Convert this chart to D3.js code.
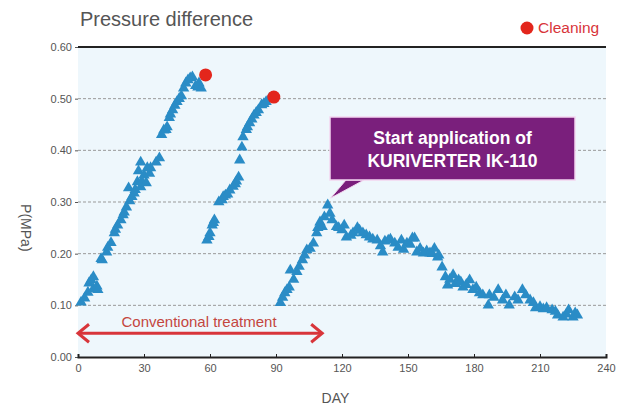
<!DOCTYPE html>
<meta charset="utf-8">
<script src="https://cdn.jsdelivr.net/npm/d3@7"></script>
<style type="text/css">
    body { margin: 0; background: #fff; }
    .title { font-family: "Liberation Sans", Arial, sans-serif; font-size: 20px; fill: #555; }
    .tick text { font-family: "Liberation Sans", Arial, sans-serif; font-size: 11px; fill: #555; }
    .label { font-family: "Liberation Sans", Arial, sans-serif; font-size: 14px; fill: #555; }
</style>
<body>
<script type="text/javascript">
    // [day, P(MPa)]
    var run1 = [[1.4,0.106],[3,0.114],[4.5,0.125],[5,0.143],[6,0.149],[7,0.155],[7,0.132],[8.6,0.137],[9,0.13],
        [10.5,0.19],[11,0.188],[13,0.203],[13.5,0.212],[15,0.221],[16.5,0.24],[17,0.247],[18,0.255],
        [19.5,0.265],[20.5,0.275],[21,0.28],[22,0.29],[23,0.327],[23.5,0.302],[24.5,0.31],[25.5,0.317],
        [26,0.324],[27,0.339],[27.5,0.36],[28.5,0.329],[28.5,0.377],[29,0.34],[30,0.352],[31,0.337],
        [31.5,0.366],[32.5,0.355],[33,0.366],[35.5,0.377],[37,0.385],[38,0.43],[39,0.439],[40,0.44],
        [40.5,0.445],[41.5,0.463],[42,0.47],[43,0.478],[44,0.487],[45,0.494],[46,0.5],[47,0.505],
        [48,0.52],[49,0.53],[50,0.536],[51,0.54],[52,0.542],[53.5,0.525],[54.5,0.522],[55,0.53],[56,0.52]];
    var run2 = [[58.6,0.226],[59.5,0.233],[60,0.24],[61,0.255],[61.5,0.26],[62,0.265],[64,0.3],
        [65.5,0.304],[66,0.31],[67,0.313],[68,0.315],[69,0.323],[70.5,0.33],[71.5,0.335],[72,0.34],
        [73,0.348],[73.5,0.381],[74.5,0.406],[75,0.426],[76.5,0.44],[77,0.445],[78,0.453],[79,0.46],
        [80,0.468],[81,0.473],[82,0.478],[83.5,0.488],[84.5,0.49],[85.5,0.494],[87,0.5]];
    var run3 = [[92,0.105],[93,0.115],[94,0.124],[95,0.13],[96,0.135],[96.5,0.168],[98,0.15],
        [99.5,0.165],[100.5,0.175],[102,0.188],[103,0.197],[104,0.207],[105.5,0.21],[107,0.22],
        [108.5,0.24],[109,0.25],[110,0.261],[111,0.252],[112,0.271],[113.5,0.294],[114.5,0.278],
        [115.5,0.265],[117.5,0.252],[118.5,0.25],[120,0.246],[121,0.255],[122,0.232],[124,0.235],
        [125,0.24],[127,0.25],[128,0.245],[129.5,0.24],[131,0.236],[132.5,0.232],[134,0.228],
        [136,0.226],[137.5,0.215],[138.5,0.203],[139.5,0.224],[141,0.226],[142,0.228],[144,0.22],
        [145.5,0.212],[147,0.226],[148,0.208],[149.5,0.22],[151,0.218],[152,0.23],[153,0.23],
        [154,0.203],[155.5,0.21],[157,0.201],[158.5,0.205],[160,0.201],[161,0.2],[162,0.21],
        [163.5,0.193],[164,0.197],[165.5,0.174],[167,0.155],[168,0.139],[169,0.15],[170.5,0.159],
        [171.5,0.142],[173,0.149],[174,0.145],[175,0.135],[176.5,0.14],[178,0.149],[179.5,0.13],
        [181,0.135],[182.5,0.124],[184,0.12],[186.5,0.10],[187,0.12],[189,0.115],[191,0.13],
        [193,0.11],[194.5,0.12],[196,0.10],[198.5,0.116],[200,0.11],[202,0.13],[203.5,0.12],
        [205.5,0.11],[207,0.105],[208,0.095],[210,0.097],[211.5,0.093],[213,0.095],[215.5,0.091],
        [217,0.088],[218,0.081],[220.5,0.077],[222,0.083],[223,0.091],[225,0.077],[226,0.085],[227,0.081]];
    var cleanings = [[58,0.546],[89,0.503]];
    var xTicks = [0, 30, 60, 90, 120, 150, 180, 210, 240];
    var yTicks = [0, 0.1, 0.2, 0.3, 0.4, 0.5, 0.6];
    var startDay = 113.5, startP = 0.294;

    var margin = { top: 47, right: 14, bottom: 53, left: 78 }
        , width = 619 - margin.left - margin.right
        , height = 410 - margin.top - margin.bottom;

    var svg = d3.select("body").append("svg")
        .attr("width", 619)
        .attr("height", 410)
        .append("g")
        .attr("transform", "translate(" + margin.left + "," + margin.top + ")");

    var xScale = d3.scaleLinear().domain([0, 240]).range([0, 528]);
    var yScale = d3.scaleLinear().domain([0, 0.6]).range([height, 0]);

    svg.append("rect")
        .attr("width", 528).attr("height", height)
        .style("fill", "#eef7fc");

    // grid
    svg.selectAll(".grid")
        .data(yTicks.slice(1, 6))
        .enter().append("line")
        .attr("x1", 0).attr("x2", 528)
        .attr("y1", yScale).attr("y2", yScale)
        .style("stroke", "#999")
        .style("stroke-width", 1)
        .style("stroke-dasharray", "3,2");

    svg.append("line")
        .attr("x1", 0).attr("x2", 528)
        .attr("y1", yScale(0.6)).attr("y2", yScale(0.6))
        .style("stroke", "#222").style("stroke-width", 2);

    var yAxis = svg.append("g")
        .call(d3.axisLeft(yScale).tickValues(yTicks).tickFormat(d3.format(".2f")).tickSize(3));
    yAxis.select(".domain").remove();
    yAxis.selectAll(".tick line").style("stroke", "#555");

    var xAxis = svg.append("g")
        .attr("transform", "translate(0," + height + ")")
        .call(d3.axisBottom(xScale).tickValues(xTicks).tickSize(-3).tickPadding(7));
    xAxis.select(".domain").style("stroke", "#222").style("stroke-width", 2);
    xAxis.selectAll(".tick line").style("stroke", "#222");

    // points
    var tri = d3.symbol().type(d3.symbolTriangle).size(56);
    svg.selectAll(".pt")
        .data(run1.concat(run2, run3))
        .enter().append("path")
        .attr("d", tri)
        .attr("transform", function (d) { return "translate(" + xScale(d[0]) + "," + yScale(d[1]) + ")"; })
        .style("fill", "#2a8cc6");

    svg.selectAll(".clean")
        .data(cleanings)
        .enter().append("circle")
        .attr("cx", function (d) { return xScale(d[0]); })
        .attr("cy", function (d) { return yScale(d[1]); })
        .attr("r", 6.5)
        .style("fill", "#e3261c");

    // conventional treatment arrow
    var ay = yScale(0.046);
    svg.append("line")
        .attr("x1", xScale(0) + 2).attr("x2", xScale(111) - 2)
        .attr("y1", ay).attr("y2", ay)
        .style("stroke", "#d8353a").style("stroke-width", 3);
    [[xScale(0), 1], [xScale(111), -1]].forEach(function (a) {
        svg.append("path")
            .attr("d", "M" + (a[0] + a[1] * 11) + "," + (ay - 9) + "L" + a[0] + "," + ay + "L" + (a[0] + a[1] * 11) + "," + (ay + 9))
            .style("fill", "none").style("stroke", "#d8353a").style("stroke-width", 3);
    });
    svg.append("text")
        .attr("x", xScale(55)).attr("y", ay - 6)
        .style("text-anchor", "middle")
        .style("font-family", "Liberation Sans, Arial, sans-serif")
        .style("font-size", "15px")
        .style("fill", "#c4463f")
        .text("Conventional treatment");

    // callout
    var bx = 252, by = 70, bw = 245, bh = 63;
    svg.append("path")
        .attr("d", "M" + (bx + 16) + "," + (by + bh) + "L" + (xScale(startDay) + 3) + "," + (yScale(startP) - 7) + "L" + (bx + 34) + "," + (by + bh) + "Z")
        .style("fill", "#7a1f7c").style("stroke", "#f3d6f0").style("stroke-width", 1);
    svg.append("rect")
        .attr("x", bx).attr("y", by).attr("width", bw).attr("height", bh)
        .style("fill", "#7a1f7c").style("stroke", "#f3d6f0").style("stroke-width", 1.5);
    svg.selectAll(".callout")
        .data(["Start application of", "KURIVERTER IK-110"])
        .enter().append("text")
        .attr("x", bx + bw / 2)
        .attr("y", function (d, i) { return by + 27 + i * 23; })
        .style("text-anchor", "middle")
        .style("font-family", "Liberation Sans, Arial, sans-serif")
        .style("font-size", "17.5px").style("font-weight", "bold").style("fill", "#fff")
        .text(String);

    // titles
    svg.append("text")
        .attr("class", "title")
        .attr("x", 2).attr("y", -21)
        .text("Pressure difference");

    svg.append("circle")
        .attr("cx", 449).attr("cy", -19).attr("r", 6.5)
        .style("fill", "#e3261c");
    svg.append("text")
        .attr("x", 460).attr("y", -14)
        .style("font-family", "Liberation Sans, Arial, sans-serif")
        .style("font-size", "15.5px").style("fill", "#d8353a")
        .text("Cleaning");

    svg.append("text")
        .attr("class", "label")
        .attr("x", xScale(117)).attr("y", height + 46)
        .style("text-anchor", "middle")
        .text("DAY");

    svg.append("text")
        .attr("class", "label")
        .attr("transform", "translate(-57," + yScale(0.25) + ") rotate(90)")
        .style("text-anchor", "middle")
        .text("P(MPa)");
</script>
</body>
</html>
